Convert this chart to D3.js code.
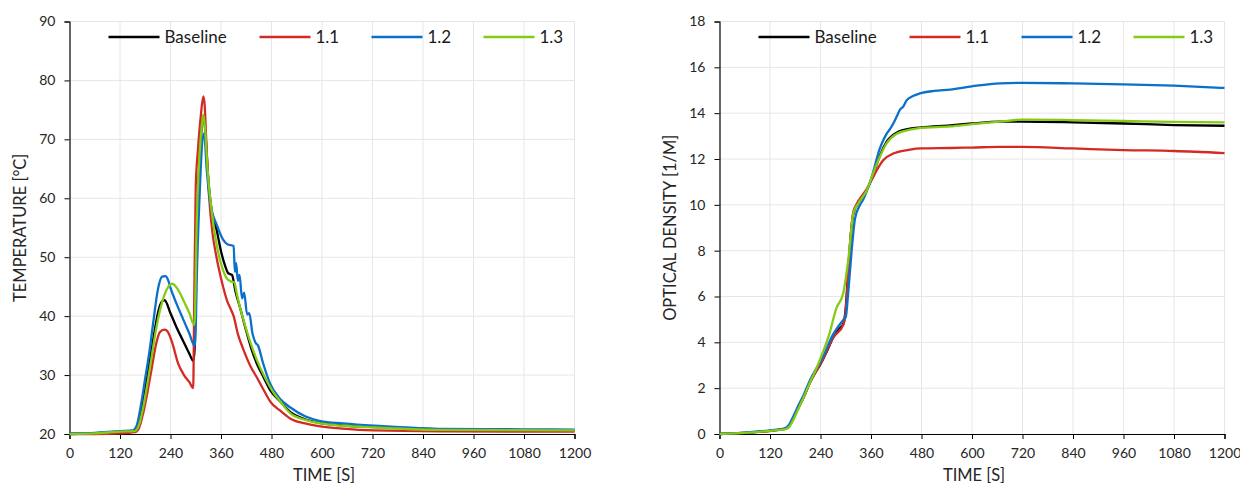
<!DOCTYPE html>
<html>
<head>
<meta charset="utf-8">
<script src="https://cdn.jsdelivr.net/npm/d3@7"></script>
<style>
  body { margin: 0; background: #fff; }
  svg { display: block; font-family: Lato, "Open Sans", sans-serif; }
</style>
</head>
<body>
<svg id="chart" width="1240" height="486"></svg>
<script>
// series names + colours
var seriesNames = ["Baseline", "1.1", "1.2", "1.3"];
var seriesColors = ["#000000", "#d42a24", "#0b6fcc", "#84cc14"];
var timeTicks = [0, 120, 240, 360, 480, 600, 720, 840, 960, 1080, 1200];
var tempTicks = [20, 30, 40, 50, 60, 70, 80, 90];
var odTicks = [0, 2, 4, 6, 8, 10, 12, 14, 16, 18];

// temperature [C] vs time [s]
var tempBaseline = [[0,20],[60,20.1],[120,20.4],[150,20.5],[160,21],[170,23.5],[180,27.5],[190,32],[200,36.5],[210,40.5],[220,42.5],[226,42.7],[240,40.5],[255,38],[270,35.8],[285,33.6],[294,32.4],[297,34],[300,50],[305,60],[312,70],[318,74],[322,72],[330,63],[340,57],[350,54.5],[360,51],[370,48.5],[377,47.3],[386,47],[395,44],[405,41.5],[418,38],[432,34.5],[446,31.8],[460,29.8],[478,27.3],[500,25.6],[525,23.7],[560,22.5],[600,21.8],[660,21.4],[720,21.2],[840,20.9],[960,20.7],[1080,20.65],[1200,20.6]];
var temp11 = [[0,20],[60,20],[120,20.1],[155,20.3],[165,21],[175,23.5],[185,27],[195,31],[205,35],[215,37.3],[225,37.7],[232,37.5],[244,35.5],[258,32],[272,30],[285,28.8],[294,27.8],[296,40],[300,62],[305,68],[312,74],[318,77.3],[321,76],[326,68],[332,60],[340,54],[348,50.5],[355,48],[365,45],[375,42.5],[383,41.2],[390,40],[400,37],[414,34.2],[430,31.5],[446,29.5],[465,27],[478,25.4],[500,24],[525,22.6],[560,21.8],[596,21.3],[650,20.9],[723,20.6],[880,20.45],[1200,20.4]];
var temp12 = [[0,20.1],[60,20.2],[120,20.5],[150,20.6],[160,21.5],[170,25],[180,29.5],[190,34],[200,39.5],[210,44.5],[220,46.7],[228,46.8],[235,46],[240,44.8],[255,42],[270,39.5],[285,37],[297,35],[299,36],[303,48],[310,62],[316,70],[320,71],[326,65],[335,59],[350,55.5],[365,53],[375,52.2],[390,51.9],[393,47.5],[396,49],[400,46],[404,47],[410,43],[415,44],[422,40.3],[427,40.5],[435,37],[442,35.5],[448,35],[460,32],[477,28.5],[500,26],[525,24.5],[560,23],[596,22.2],[650,21.8],[723,21.4],[800,21.1],[880,20.85],[1080,20.8],[1200,20.75]];
var temp13 = [[0,20],[60,20.1],[120,20.4],[155,20.5],[165,21.5],[175,24.5],[185,28.5],[195,33],[205,37.5],[215,41],[225,43.5],[235,45],[244,45.5],[255,44.8],[272,42.5],[285,40.5],[296,38.5],[298,40],[302,55],[308,66],[314,72],[318,74.2],[322,72],[328,65],[339,57.2],[350,52],[363,48.2],[375,46.3],[383,45.9],[392,45.7],[397,44],[405,41.5],[414,39.2],[430,35.5],[446,32.4],[465,29.5],[485,27],[500,25.6],[525,23.5],[560,22.4],[596,21.8],[650,21.4],[723,21.1],[880,20.7],[1200,20.6]];

// optical density [1/m] vs time [s]
var odBaseline = [[0,0],[60,0.05],[120,0.14],[155,0.22],[165,0.33],[175,0.65],[185,1.05],[200,1.6],[215,2.25],[230,2.75],[240,3.05],[255,3.6],[270,4.2],[285,4.6],[295,4.85],[300,5.5],[306,7.2],[312,8.7],[318,9.6],[330,10.1],[350,10.65],[365,11.3],[381,12.15],[397,12.75],[421,13.15],[452,13.32],[479,13.38],[548,13.47],[600,13.55],[666,13.63],[720,13.63],[840,13.6],[960,13.55],[1080,13.48],[1200,13.45]];
var od11 = [[0,0],[60,0.05],[120,0.14],[155,0.22],[165,0.33],[175,0.65],[185,1.05],[200,1.6],[215,2.25],[230,2.75],[240,3.05],[270,4.2],[295,4.8],[300,5.4],[306,7.1],[312,8.7],[318,9.7],[325,10],[350,10.7],[365,11.2],[374,11.52],[389,11.95],[413,12.24],[453,12.41],[479,12.46],[548,12.48],[600,12.5],[666,12.53],[720,12.53],[840,12.46],[960,12.39],[1080,12.35],[1200,12.26]];
var od12 = [[0,0],[60,0.06],[120,0.16],[155,0.25],[165,0.4],[175,0.75],[185,1.15],[200,1.7],[215,2.35],[230,2.85],[240,3.15],[270,4.35],[295,5.0],[300,5.1],[306,6.2],[314,8.0],[322,9.4],[334,10.0],[342,10.25],[352,10.7],[362,11.22],[372,11.9],[381,12.46],[390,12.85],[397,13.1],[405,13.3],[413,13.55],[421,13.85],[429,14.15],[437,14.3],[445,14.57],[460,14.75],[476,14.86],[510,14.97],[548,15.03],[600,15.17],[666,15.3],[720,15.32],[840,15.3],[960,15.26],[1080,15.2],[1200,15.1]];
var od13 = [[0,0],[60,0.05],[120,0.14],[155,0.2],[165,0.3],[175,0.6],[185,1.0],[200,1.6],[215,2.25],[230,2.85],[240,3.3],[260,4.3],[278,5.5],[294,6.14],[306,7.6],[318,9.63],[330,10.07],[350,10.64],[365,11.37],[381,12.1],[397,12.68],[421,13.1],[453,13.28],[479,13.36],[548,13.42],[600,13.52],[666,13.63],[720,13.72],[840,13.7],[960,13.66],[1080,13.62],[1200,13.6]];

var legendOffsets = [39, 190, 302, 414];

var svg = d3.select("#chart");

var drawPanel = function(left, yMax, yMin, yTicks, yTitle, series) {
  var top = 21.5, bottom = 434, right = left + 505;
  var x = d3.scaleLinear().domain([0, 1200]).range([left, right]);
  var y = d3.scaleLinear().domain([yMin, yMax]).range([bottom, top]);
  var g = svg.append("g");

  // gridlines
  g.selectAll(".vg").data(timeTicks.slice(1)).enter().append("line")
    .attr("x1", function(d){return x(d)}).attr("x2", function(d){return x(d)})
    .attr("y1", top).attr("y2", bottom)
    .attr("stroke", "#e6e6e6").attr("stroke-width", 1);
  g.selectAll(".hg").data(yTicks.slice(1)).enter().append("line")
    .attr("x1", left).attr("x2", right)
    .attr("y1", function(d){return y(d)}).attr("y2", function(d){return y(d)})
    .attr("stroke", "#e6e6e6").attr("stroke-width", 1);

  // axes
  var xAxis = g.append("g").attr("transform", "translate(0," + bottom + ")")
    .call(d3.axisBottom(x).tickValues(timeTicks).tickFormat(d3.format("d")).tickSize(5).tickPadding(9));
  var yAxis = g.append("g").attr("transform", "translate(" + left + ",0)")
    .call(d3.axisLeft(y).tickValues(yTicks).tickFormat(d3.format("d")).tickSize(5).tickPadding(9));
  [xAxis, yAxis].forEach(function(a) {
    a.select(".domain").attr("stroke", "#000").attr("stroke-width", 1.2);
    a.selectAll(".tick line").attr("stroke", "#000");
    a.selectAll("text").attr("fill", "#262626").style("font-size", "14px")
      .style("font-family", "Lato, 'Open Sans', sans-serif");
  });

  g.append("text").attr("x", (left + right) / 2 + 2).attr("y", 481)
    .attr("text-anchor", "middle").attr("fill", "#262626")
    .style("font-size", "16.5px").text("TIME [S]");
  g.append("text")
    .attr("transform", "translate(" + (left - 44) + "," + ((top + bottom) / 2) + ") rotate(-90)")
    .attr("text-anchor", "middle").attr("fill", "#262626")
    .style("font-size", "16.5px").text(yTitle);

  // lines
  var line = d3.line()
    .x(function(d){return x(d[0])})
    .y(function(d){return y(d[1])})
    .curve(d3.curveMonotoneX);
  series.forEach(function(s, i) {
    g.append("path").datum(s)
      .attr("d", line)
      .attr("fill", "none")
      .attr("stroke", seriesColors[i])
      .attr("stroke-width", 2.3)
      .attr("stroke-linejoin", "round");
  });

  // legend
  seriesNames.forEach(function(name, i) {
    var lx = left + legendOffsets[i];
    g.append("line").attr("x1", lx).attr("x2", lx + 51)
      .attr("y1", 37).attr("y2", 37)
      .attr("stroke", seriesColors[i]).attr("stroke-width", 2.5);
    g.append("text").attr("x", lx + 56).attr("y", 43)
      .attr("fill", "#1a1a1a").style("font-size", "17px").text(name);
  });
};

drawPanel(69.5, 90, 20, tempTicks, "TEMPERATURE [°C]", [tempBaseline, temp11, temp12, temp13]);
drawPanel(719.5, 18, 0, odTicks, "OPTICAL DENSITY [1/M]", [odBaseline, od11, od12, od13]);
</script>
</body>
</html>
